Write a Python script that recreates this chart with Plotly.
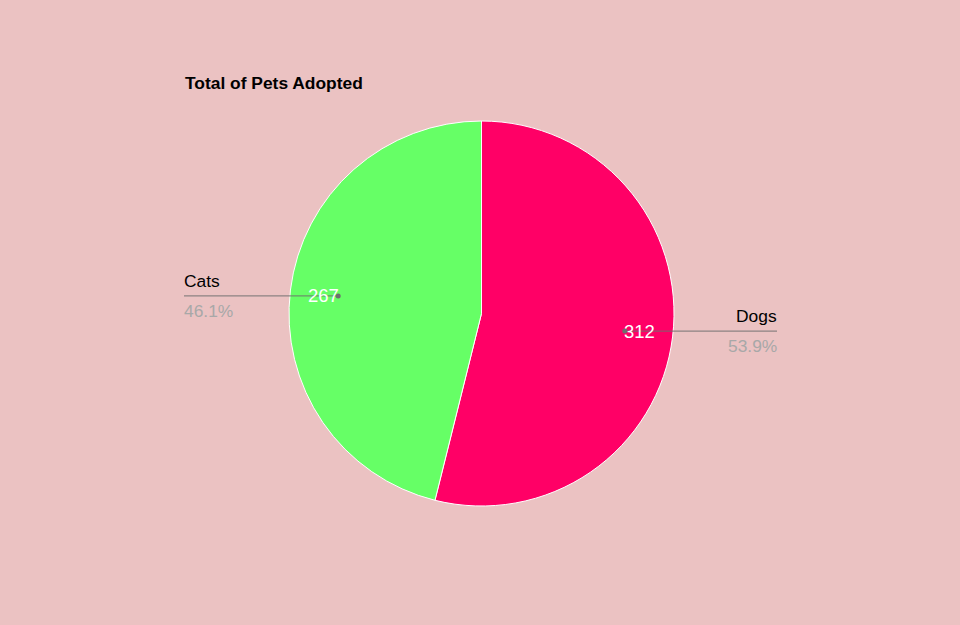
import math
import plotly.graph_objects as go

categories = ["Dogs", "Cats"]
values = [312, 267]
colors = ["#FF0066", "#66FF66"]
title = "Total of Pets Adopted"

W, H = 960, 625
CX, CY, R = 481.5, 313.5, 192.5   # pie centre / radius in pixels
label_x = {"Dogs": 777, "Cats": 184}
FONT = "Liberation Sans, Arial, sans-serif"
LABEL_SIZE = 17.4
VALUE_SIZE = 18.5

def px(x):
    return x / W

def py(y):
    return 1 - y / H

fig = go.Figure(go.Pie(
    labels=categories, values=values, sort=False, direction="clockwise",
    rotation=0, marker=dict(colors=colors, line=dict(color="white", width=1)),
    textinfo="none", hoverinfo="label+value+percent", showlegend=False,
    domain=dict(x=[px(CX - R), px(CX + R)], y=[py(CY + R), py(CY - R)]),
))

total = sum(values)
cum = 0
shapes, annotations = [], []
for cat, v in zip(categories, values):
    mid = (cum + v / 2) / total * 2 * math.pi
    cum += v
    dx, dy = math.sin(mid), -math.cos(mid)
    x0, y0 = CX + 0.75 * R * dx, CY + 0.75 * R * dy
    lx = label_x[cat]
    right = lx > CX
    shift = 2 if right else -2
    shapes.append(dict(type="line", xref="paper", yref="paper",
                       x0=px(x0), y0=py(y0), x1=px(lx), y1=py(y0),
                       line=dict(color="rgba(110,110,110,0.75)", width=1.2)))
    shapes.append(dict(type="circle", xref="paper", yref="paper",
                       x0=px(x0 - 2.5), x1=px(x0 + 2.5), y0=py(y0 + 2.5), y1=py(y0 - 2.5),
                       fillcolor="rgb(110,110,110)", line=dict(width=0)))
    anchor = "right" if right else "left"
    annotations.append(dict(x=px(lx), y=py(y0 - 3), xref="paper", yref="paper",
                            text=cat, showarrow=False, xanchor=anchor, yanchor="bottom",
                            xshift=shift,
                            font=dict(family=FONT, size=LABEL_SIZE, color="black")))
    annotations.append(dict(x=px(lx), y=py(y0 + 3), xref="paper", yref="paper",
                            text=f"{v / total * 100:.1f}%", showarrow=False,
                            xanchor=anchor, yanchor="top", xshift=shift,
                            font=dict(family=FONT, size=LABEL_SIZE, color="#A8A8A8")))
    tx = x0 + (15 if right else -15)
    annotations.append(dict(x=px(tx), y=py(y0), xref="paper", yref="paper",
                            text=str(v), showarrow=False, xanchor="center", yanchor="middle",
                            font=dict(family=FONT, size=VALUE_SIZE, color="white")))

annotations.append(dict(x=px(185), y=py(83), xref="paper", yref="paper",
                        text=f"<b>{title}</b>", showarrow=False, xanchor="left",
                        yanchor="middle", xshift=-2,
                        font=dict(family=FONT, size=LABEL_SIZE, color="black")))

fig.update_layout(width=W, height=H, margin=dict(l=0, r=0, t=0, b=0),
                  paper_bgcolor="#EBC2C2", plot_bgcolor="#EBC2C2",
                  shapes=shapes, annotations=annotations)
fig.write_html("out.html")
